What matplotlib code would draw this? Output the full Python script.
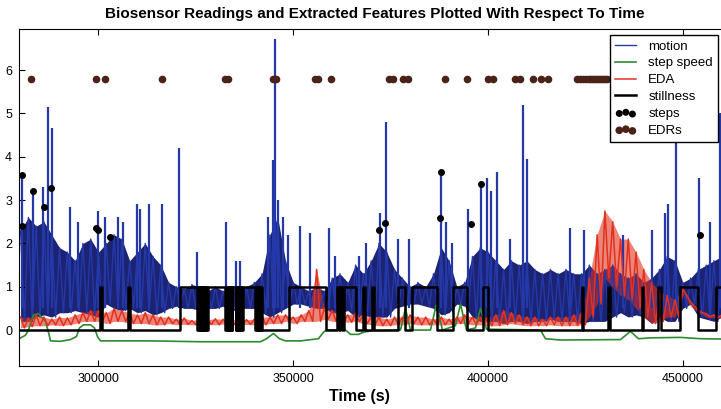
import numpy as np
import matplotlib
matplotlib.use('Agg')
import matplotlib.pyplot as plt

plt.rcParams['font.family'] = ['Liberation Sans', 'DejaVu Sans']

# motion: dense envelope per 2000 s bin (top / bottom of the dense band)
bin_t = np.arange(280000, 460001, 2000)
motion_hi = [2.3, 2.6, 2.4, 2.5, 2.2, 1.9, 1.8, 1.6, 2.0, 2.1,
             1.8, 2.0, 2.2, 2.1, 1.6, 1.8, 2.0, 1.7, 1.5, 1.1,
             1.0, 0.95, 1.05, 1.0, 0.9, 1.0, 0.9, 1.0, 0.95, 1.0,
             1.1, 1.3, 2.2, 2.6, 1.6, 1.1, 1.0, 0.9, 1.0, 0.9,
             1.2, 1.3, 1.1, 1.5, 1.3, 1.6, 2.0, 1.8, 1.4, 1.2,
             1.0, 1.1, 1.0, 1.3, 1.9, 1.6, 1.0, 1.1, 1.7, 1.9,
             1.8, 1.6, 1.4, 1.6, 1.5, 1.6, 1.4, 1.3, 1.4, 1.3,
             1.4, 1.3, 1.3, 1.5, 1.3, 1.4, 1.5, 1.3, 1.2, 1.3,
             1.1, 1.2, 1.4, 1.7, 1.6, 1.1, 1.2, 1.4, 1.5, 1.6, 1.7]
motion_lo = [0.2, 0.2, 0.3, 0.35, 0.3, 0.4, 0.4, 0.45, 0.4, 0.35,
             0.3, 0.6, 0.5, 0.45, 0.5, 0.4, 0.45, 0.35, 0.4, 0.5,
             0.55, 0.5, 0.5, 0.45, 0.5, 0.5, 0.55, 0.45, 0.5, 0.5,
             0.5, 0.4, 0.3, 0.4, 0.5, 0.6, 0.6, 0.55, 0.5, 0.5,
             0.4, 0.4, 0.45, 0.3, 0.35, 0.3, 0.3, 0.3, 0.5, 0.55,
             0.6, 0.6, 0.55, 0.5, 0.35, 0.4, 0.6, 0.55, 0.3, 0.2,
             0.2, 0.2, 0.15, 0.2, 0.2, 0.15, 0.2, 0.2, 0.25, 0.2,
             0.2, 0.2, 0.15, 0.2, 0.2, 0.2, 0.3, 0.4, 0.3, 0.35,
             0.3, 0.15, 0.3, 0.2, 0.2, 0.5, 0.6, 0.3, 0.25, 0.2, 0.3]

# isolated motion spikes (time, peak)
spike_t = [280490, 283310, 285880, 287170, 288190, 292810, 294870, 300000,
           301800, 305130, 306420, 310010, 310780, 313090, 316430, 320790,
           325410, 332860, 335420, 336450, 343640, 344920, 345430, 346210,
           347490, 348780, 351850, 354420, 359300, 360840, 367000, 368800,
           372390, 373930, 377010, 379830, 388050, 389330, 390870, 394980,
           398310, 399860, 400880, 402420, 405760, 409100, 410120, 421160,
           424760, 434770, 442210, 445550, 446320, 448370, 454280, 457100,
           459670]
spike_h = [3.6, 3.2, 3.3, 5.15, 4.67, 2.85, 2.5, 2.75,
           2.6, 2.6, 2.5, 2.9, 2.8, 2.9, 2.9, 4.2,
           1.8, 2.5, 1.6, 1.6, 2.6, 3.93, 6.72, 3.0,
           2.6, 2.2, 2.4, 2.25, 2.35, 1.7, 1.7, 2.0,
           2.7, 4.8, 2.1, 2.1, 3.65, 2.5, 2.0, 2.8,
           3.4, 3.5, 3.2, 3.65, 2.1, 5.2, 3.95, 2.35,
           2.3, 2.2, 2.3, 2.7, 2.9, 4.4, 3.5, 2.5,
           5.0]

# EDA envelope per 2000 s bin
eda_hi = [0.30, 0.28, 0.35, 0.3, 0.25, 0.3, 0.28, 0.35, 0.4, 0.45,
          0.45, 0.4, 0.5, 0.45, 0.4, 0.35, 0.4, 0.35, 0.3, 0.3,
          0.25, 0.28, 0.22, 0.25, 0.24, 0.26, 0.25, 0.23, 0.25, 0.24,
          0.25, 0.3, 0.3, 0.35, 0.35, 0.3, 0.35, 0.45, 1.4, 0.5,
          0.45, 0.4, 0.35, 0.4, 0.35, 0.3, 0.3, 0.25, 0.3, 0.3,
          0.35, 0.3, 0.3, 0.25, 0.3, 0.25, 0.3, 0.35, 0.3, 0.3,
          0.3, 0.35, 0.45, 0.4, 0.35, 0.3, 0.3, 0.25, 0.3, 0.3,
          0.3, 0.35, 0.4, 1.2, 2.2, 2.75, 2.5, 2.1, 2.1, 1.8,
          1.4, 1.1, 0.9, 0.8, 0.7, 0.95, 0.65, 0.45, 0.38, 0.35, 0.35]
eda_lo = [0.05, 0.08, 0.1, 0.1, 0.12, 0.1, 0.12, 0.15, 0.2, 0.2,
          0.2, 0.15, 0.2, 0.2, 0.15, 0.15, 0.15, 0.12, 0.12, 0.15,
          0.12, 0.13, 0.12, 0.14, 0.13, 0.12, 0.14, 0.13, 0.12, 0.13,
          0.12, 0.12, 0.15, 0.15, 0.2, 0.15, 0.2, 0.2, 0.2, 0.25,
          0.2, 0.2, 0.18, 0.2, 0.15, 0.12, 0.1, 0.1, 0.12, 0.12,
          0.15, 0.12, 0.12, 0.12, 0.12, 0.12, 0.15, 0.15, 0.12, 0.12,
          0.1, 0.1, 0.12, 0.15, 0.12, 0.1, 0.1, 0.1, 0.12, 0.1,
          0.1, 0.1, 0.12, 0.3, 0.6, 1.2, 1.0, 0.8, 0.7, 0.5,
          0.3, 0.15, 0.2, 0.3, 0.3, 0.8, 0.55, 0.4, 0.3, 0.28, 0.28]

# step speed
speed_t = [279600, 281260, 282030, 283310, 284600, 286400, 287170, 287680,
           290250, 292810, 294350, 295120, 296150, 297950, 298970, 299740,
           300510, 313350, 326180, 341590, 343130, 344920, 346460, 348000,
           351850, 356470, 357760, 358530, 363400, 364690, 366740, 368030,
           369820, 377520, 378800, 380090, 385220, 386760, 388300, 391640,
           392930, 394470, 396780, 398060, 399600, 413460, 414740, 418590,
           434000, 436560, 438620, 441700, 449400, 454530, 470000]
speed_v = [-0.2, -0.12, 0.0, 0.35, 0.38, 0.2, -0.05, -0.25,
           -0.26, -0.22, -0.15, 0.05, 0.12, 0.12, 0.05, -0.15,
           -0.25, -0.25, -0.27, -0.27, -0.2, -0.08, -0.2, -0.25,
           -0.25, -0.2, -0.05, 0.0, 0.0, -0.1, -0.1, -0.05,
           -0.02, 0.0, 0.5, 0.0, 0.0, 0.6, 0.0, 0.1,
           0.6, 0.0, 0.05, 0.5, 0.02, 0.0, -0.2, -0.23,
           -0.22, -0.03, -0.2, -0.18, -0.17, -0.2, -0.22]

# stillness change points (value holds until next time)
still_t = [279600, 300500, 300900, 307700, 308100, 321000,
           325400, 325600, 325800, 326000, 326200, 326400, 326600,
           326800, 327000, 327200, 327400, 327600, 327800, 328000,
           332600, 332800, 333000, 333200, 333400, 333600, 333800,
           334000, 334200, 334400,
           335200, 335400, 335600, 335800, 336000, 336200, 336400,
           336600, 336800, 337000,
           340300, 340500, 340700, 340900, 341100, 341300, 341500,
           341700, 341900, 342100,
           348800, 358300, 361350, 361800, 362100, 362500, 362900,
           366000, 367800, 368500, 370300, 370800, 377000, 378800,
           380600, 387000, 390900, 394700, 398800, 399900,
           424250, 424500, 430900, 431300, 439400, 439900, 443750,
           444500, 449400, 453800, 458400, 470000]
still_v = [0, 1, 0, 1, 0, 1,
           0, 1, 0, 1, 0, 1, 0,
           1, 0, 1, 0, 1, 0, 1,
           0, 1, 0, 1, 0, 1, 0,
           1, 0, 1,
           0, 1, 0, 1, 0, 1, 0,
           1, 0, 1,
           0, 1, 0, 1, 0, 1, 0,
           1, 0, 0,
           1, 0, 1, 0, 1, 0, 1,
           0, 1, 0, 1, 0, 1, 0,
           1, 0, 1, 0, 1, 0,
           1, 0, 1, 0, 1, 0, 1,
           0, 1, 0, 1, 1]

# detected steps
steps_t = [280490, 280490, 283310, 286140, 287930, 299490, 300000, 303080,
           372130, 373670, 387790, 388050, 395750, 398310, 454530]
steps_v = [3.58, 2.4, 3.2, 2.85, 3.27, 2.35, 2.3, 2.15,
           2.3, 2.47, 2.58, 3.65, 2.45, 3.38, 2.2]

# electrodermal responses
edr_t = [282800, 299490, 301800, 316430, 332600, 333370, 344920, 345690,
         355700, 356470, 359810, 374700, 375730, 378290, 379580, 389080,
         394720, 400110, 401400, 407050, 408330, 411670, 413720, 415520,
         422960, 423730, 424500, 425270, 426040, 426550, 427070, 427580,
         428090, 428610, 429120, 429630, 430150, 430660]
edr_level = 5.8

motion_c = '#2438a8'
fig = plt.figure(figsize=(7.21, 4.09), dpi=100)
ax = fig.add_axes([19 / 721, 43 / 409, (470000 - 279600) / 256.7 / 721, 337 / 409])

zig_t = np.column_stack([bin_t, bin_t + 1000]).ravel()
ax.fill_between(bin_t, motion_lo, motion_hi, color='#1b2372', lw=0)
ax.plot(zig_t, np.column_stack([motion_hi, motion_lo]).ravel(), color=motion_c,
        lw=1.0, label='motion')
ax.vlines(spike_t, 0.5, spike_h, color=motion_c, lw=1.6)
ax.plot(speed_t, speed_v, color='#2f8a2f', lw=1.2, label='step speed')
ax.fill_between(bin_t, eda_lo, eda_hi, color='#e2321f', lw=0, alpha=0.6)
ax.plot(zig_t, np.column_stack([eda_hi, eda_lo]).ravel(), color='#e2321f',
        lw=1.1, label='EDA')
ax.plot(still_t, still_v, color='black', lw=1.8, drawstyle='steps-post',
        label='stillness')
ax.scatter(steps_t, steps_v, s=16, color='black', zorder=5, label='steps')
ax.scatter(edr_t, [edr_level] * len(edr_t), s=20, color='#4a2218', zorder=5,
           label='EDRs')

ax.set_xlim(279600, 470000)
ax.set_ylim(-0.83, 6.95)
ax.set_xticks([300000, 350000, 400000, 450000])
ax.set_yticks([0, 1, 2, 3, 4, 5, 6])
ax.tick_params(direction='in', top=True, right=True, labelsize=9, length=4,
               pad=5)

fig.text(375 / 721, 1 - 14 / 409, 'Biosensor Readings and Extracted Features '
         'Plotted With Respect To Time', ha='center', va='center',
         fontsize=11, fontweight='bold')
fig.text(359 / 721, 1 - 396 / 409, 'Time (s)', ha='center', va='center',
         fontsize=11.5, fontweight='bold')

leg = ax.legend(loc='upper left', bbox_to_anchor=(610 / 721, 1 - 35 / 409),
                bbox_transform=fig.transFigure, borderaxespad=0,
                fontsize=9.5, labelspacing=0.35, handlelength=1.6,
                handletextpad=0.9, fancybox=False, framealpha=1,
                scatterpoints=3, scatteryoffsets=[0.375, 0.5, 0.3125])
leg.get_frame().set_edgecolor('black')
leg.get_frame().set_linewidth(1.0)

fig.savefig('out.png', dpi=100)
